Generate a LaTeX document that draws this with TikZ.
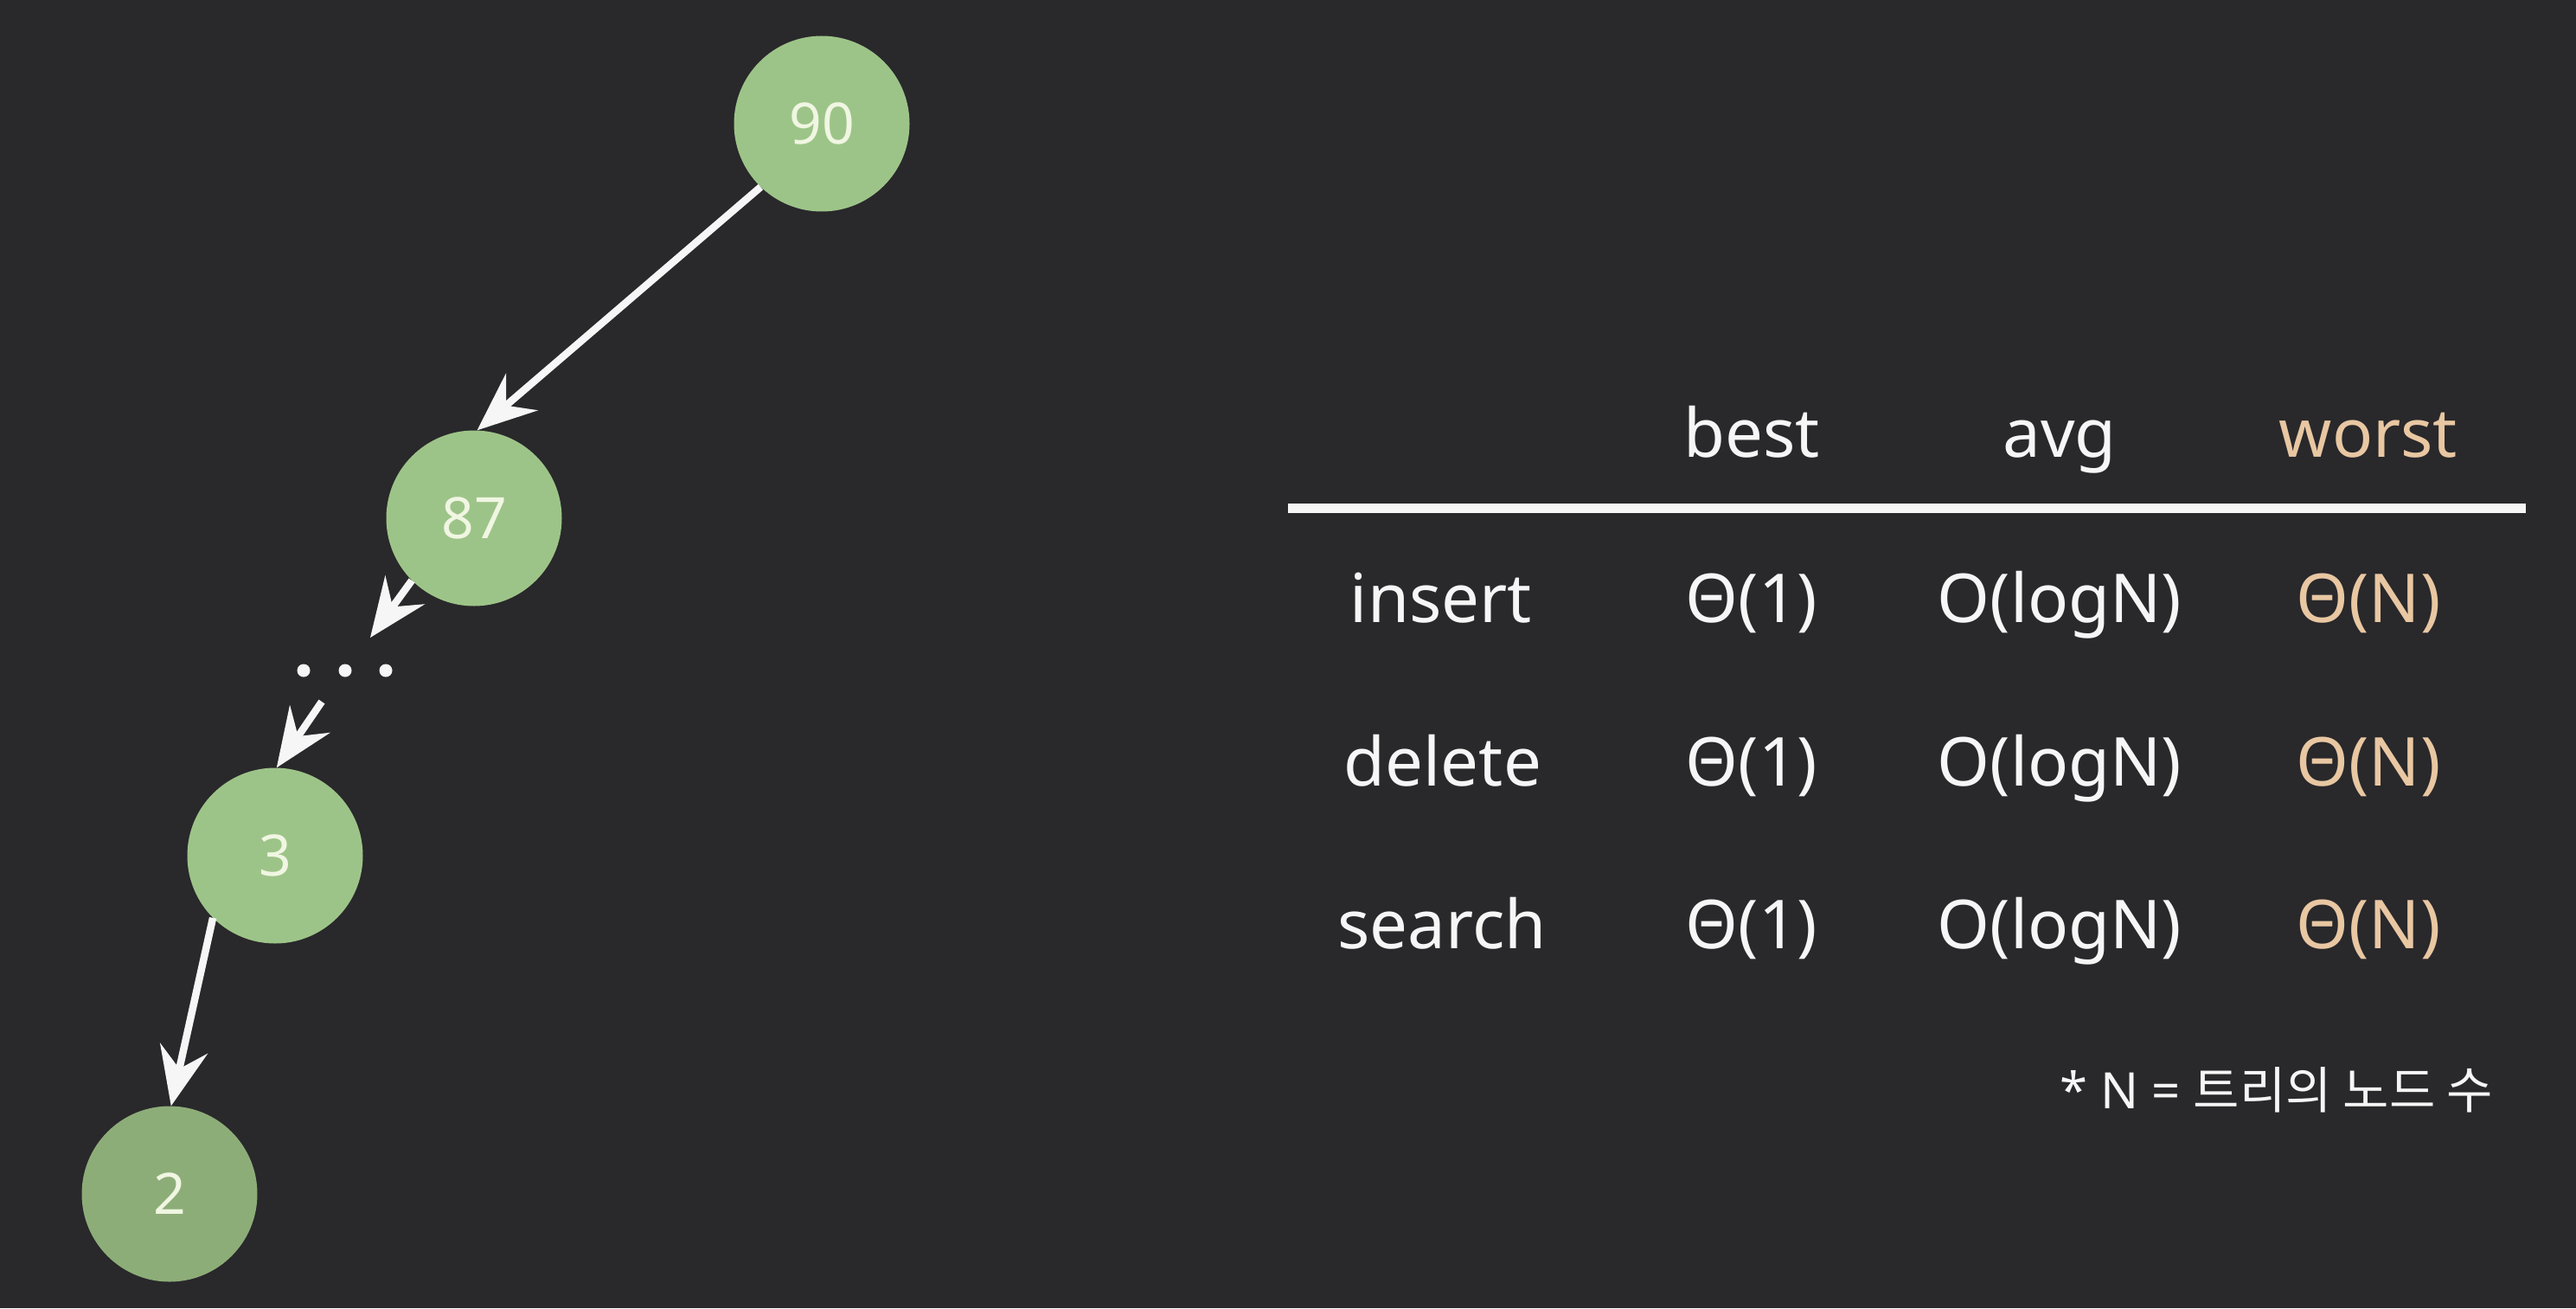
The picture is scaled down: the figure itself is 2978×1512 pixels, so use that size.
\documentclass[tikz,border=0pt]{standalone}
\usepackage{fontspec}
\setmainfont{Noto Sans}
\newfontfamily\korfont{Noto Sans CJK KR}
\usetikzlibrary{arrows.meta}
\definecolor{bg}{RGB}{41,40,43}
\definecolor{nodegreen}{RGB}{157,196,136}
\definecolor{nodegreendark}{RGB}{141,173,120}
\definecolor{tanc}{RGB}{232,199,162}
\definecolor{offwhite}{RGB}{246,246,246}
\definecolor{numtext}{RGB}{240,246,226}
\begin{document}
\begin{tikzpicture}[x=1pt,y=-1pt,
  treenode/.style={circle,fill=nodegreen,minimum size=203pt,inner sep=0pt,text=numtext,font=\fontsize{66}{70}\selectfont},
  edge/.style={draw=offwhite,line width=8.5pt,-{Stealth[length=68pt,width=56pt,inset=24pt]}},
  cell/.style={anchor=base,inner sep=0pt,text=offwhite,font=\fontsize{78}{82}\selectfont},
  dotnode/.style={circle,fill=offwhite,minimum size=15pt,inner sep=0pt},
]
\fill[bg] (0,0) rectangle (2978,1512);
\useasboundingbox (0,0) rectangle (2978,1512);

% tree
\node[treenode] (n90) at (950,143) {90};
\node[treenode] (n87) at (548,599) {87};
\node[treenode] (n3)  at (318,989) {3};
\node[treenode,fill=nodegreendark] (n2) at (196,1380) {2};
\node[dotnode] (d1) at (351,775) {};
\node[dotnode] (d2) at (399,775) {};
\node[dotnode] (d3) at (446,775) {};
\coordinate (a1) at (428,737);
\coordinate (a2) at (372,811);

\draw[edge] (n90.226) -- (n87.88);
\draw[edge] (n87.225) -- (a1);
\draw[edge] (a2) -- (n3.89);
\draw[edge] (n3.225) -- (n2.89);

% table
\node[cell] (hbest) at (2025,528) {best};
\node[cell] (havg) at (2381,528) {avg};
\node[cell,text=tanc] (hworst) at (2738,528) {worst};
\coordinate (rl) at (1489,587);
\coordinate (rr) at (2920,587);
\draw[offwhite,line width=11pt] (rl) -- (rr);

\node[cell] (rins) at (1666,719) {insert};
\node[cell] (ib) at (2025,719) {Θ(1)};
\node[cell] (ia) at (2381,719) {O(logN)};
\node[cell,text=tanc] (iw) at (2738,719) {Θ(N)};

\node[cell] (rdel) at (1668,908) {delete};
\node[cell] (db) at (2025,908) {Θ(1)};
\node[cell] (da) at (2381,908) {O(logN)};
\node[cell,text=tanc] (dw) at (2738,908) {Θ(N)};

\node[cell] (rsea) at (1667,1096) {search};
\node[cell] (sb) at (2025,1096) {Θ(1)};
\node[cell] (sa) at (2381,1096) {O(logN)};
\node[cell,text=tanc] (sw) at (2738,1096) {Θ(N)};

\node[cell,anchor=base east,font=\fontsize{58}{60}\selectfont] (foot) at (2882,1281) {* N = {\korfont 트리의 노드 수}};
\end{tikzpicture}
\end{document}
